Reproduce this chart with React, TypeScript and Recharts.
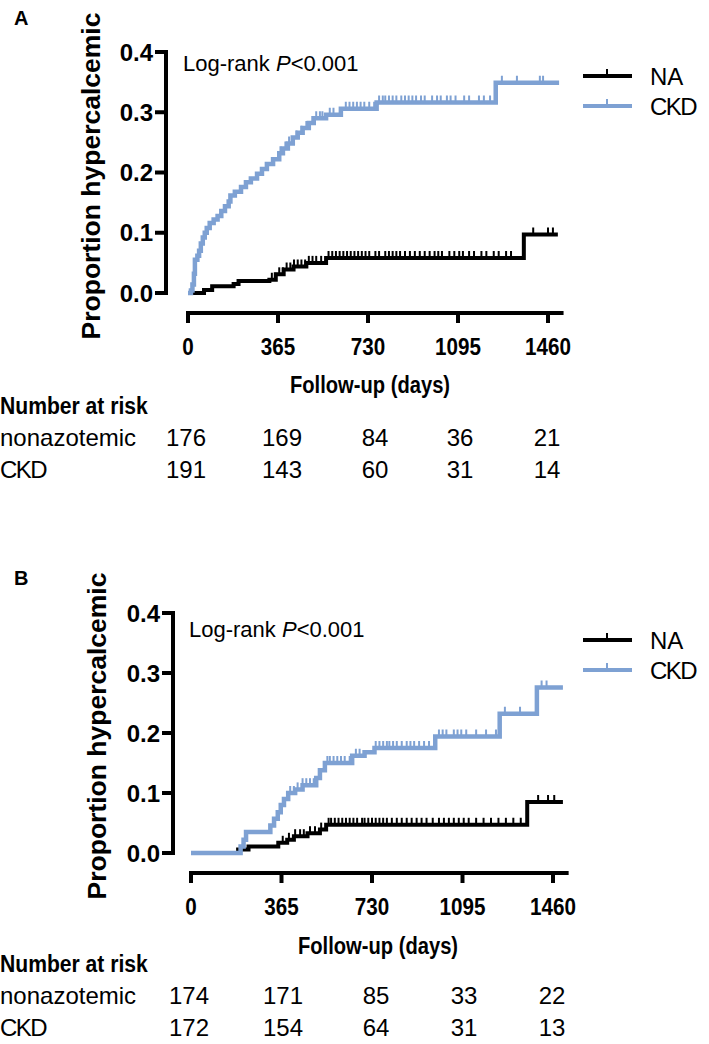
import React from 'react';
import { ComposedChart, Line, Scatter, XAxis, YAxis, ReferenceLine, Customized } from 'recharts';

const xTicks = [0, 365, 730, 1095, 1460];
const yTicks = [0, 0.1, 0.2, 0.3, 0.4];
const seriesNames = ['NA', 'CKD'];
const riskRowNames = ['nonazotemic', 'CKD'];

// Panel A – step curves [day, proportion]
const naStepsA = [
  [0, 0], [65, 0.005], [98, 0.011], [185, 0.015], [205, 0.02], [330, 0.022], [356, 0.031],
  [388, 0.039], [428, 0.044], [480, 0.05], [560, 0.058], [1362, 0.097], [1500, 0.097],
];
const ckdStepsA = [
  [0, 0], [12, 0.004], [18, 0.014], [24, 0.032], [28, 0.055], [38, 0.062], [45, 0.07],
  [52, 0.082], [60, 0.092], [68, 0.1], [76, 0.108], [88, 0.116], [104, 0.122], [120, 0.128],
  [135, 0.136], [150, 0.144], [165, 0.152], [172, 0.162], [190, 0.168], [215, 0.176],
  [235, 0.184], [255, 0.19], [280, 0.198], [300, 0.206], [320, 0.214], [345, 0.222],
  [370, 0.232], [385, 0.24], [405, 0.248], [425, 0.258], [445, 0.266], [465, 0.274],
  [490, 0.282], [510, 0.29], [560, 0.296], [620, 0.306], [765, 0.316], [1248, 0.349], [1505, 0.349],
];
const naCensorA = [
  340, 355, 370, 385, 400, 415, 430, 445, 460, 475, 490, 505, 520, 540, 570, 585, 600, 615, 630,
  645, 660, 675, 690, 705, 720, 735, 760, 775, 800, 815, 830, 845, 860, 880, 900, 920, 940, 960,
  980, 1000, 1015, 1030, 1060, 1080, 1100, 1115, 1140, 1160, 1190, 1210, 1240, 1260, 1290, 1310,
  1400, 1460, 1480,
];
const ckdCensorA = [
  375, 395, 410, 440, 460, 480, 505, 520, 535, 545, 575, 590, 640, 655, 670, 685, 700, 715, 735,
  755, 775, 790, 800, 815, 830, 845, 865, 880, 895, 910, 925, 945, 960, 990, 1010, 1025, 1050,
  1065, 1085, 1120, 1140, 1180, 1200, 1225, 1273, 1334, 1427, 1440,
];
const riskNAA = [176, 169, 84, 36, 21];
const riskCKDA = [191, 143, 60, 31, 14];

// Panel B – step curves [day, proportion]
const naStepsB = [
  [0, 0], [190, 0.006], [232, 0.011], [352, 0.017], [388, 0.022], [415, 0.028], [470, 0.033],
  [520, 0.039], [545, 0.047], [1356, 0.085], [1500, 0.085],
];
const ckdStepsB = [
  [0, 0], [200, 0.011], [212, 0.022], [222, 0.035], [320, 0.046], [335, 0.057], [350, 0.068],
  [362, 0.08], [375, 0.09], [392, 0.1], [420, 0.106], [450, 0.113], [505, 0.125], [520, 0.138],
  [540, 0.15], [650, 0.162], [700, 0.168], [740, 0.175], [985, 0.194], [1245, 0.232],
  [1395, 0.276], [1500, 0.276],
];
const naCensorB = [
  370, 395, 420, 440, 455, 480, 500, 525, 555, 565, 580, 595, 610, 625, 640, 655, 670, 690, 700,
  715, 730, 745, 760, 775, 790, 810, 830, 850, 870, 890, 910, 930, 950, 975, 1000, 1020, 1040,
  1060, 1080, 1100, 1120, 1150, 1180, 1210, 1240, 1270, 1300, 1330, 1400, 1440, 1465,
];
const ckdCensorB = [
  400, 415, 430, 450, 465, 480, 495, 550, 560, 575, 590, 605, 620, 640, 665, 680, 745, 760, 775,
  790, 800, 815, 830, 850, 870, 885, 900, 920, 940, 960, 1000, 1015, 1030, 1060, 1075, 1090,
  1110, 1150, 1190, 1230, 1266, 1327, 1414, 1434,
];
const riskNAB = [174, 171, 85, 33, 22];
const riskCKDB = [172, 154, 64, 31, 13];

const BLACK = '#000000';
const BLUE = '#7ea1d3';
const FONT = "'Liberation Sans', Arial, sans-serif";
const NARROW = 0.84; // bold titles in the figure are condensed

const stepValueAt = (steps: number[][], day: number) => {
  let v = 0;
  for (const [d, p] of steps) {
    if (d <= day) v = p;
    else break;
  }
  return v;
};
const toPoints = (steps: number[][]) => steps.map(([day, p]) => ({ day, p }));
const toCensor = (steps: number[][], days: number[]) => days.map((day) => ({ day, p: stepValueAt(steps, day) }));

const censorShape = (color: string) => (props: any) => (
  <line x1={props.cx} x2={props.cx} y1={props.cy} y2={props.cy - 7} stroke={color} strokeWidth={2} />
);

const BoldText = ({ x, y, anchor = 'start', size = 24, sx = NARROW, children }: any) => (
  <g transform={`translate(${x},${y}) scale(${sx},1)`}>
    <text x={0} y={0} textAnchor={anchor} fontFamily={FONT} fontWeight={700} fontSize={size} fill="#000">
      {children}
    </text>
  </g>
);

const XTick = (props: any) => (
  <g transform={`translate(${props.x},${props.y}) scale(0.86,1)`}>
    <text x={0} y={0} dy="0.71em" textAnchor="middle" fontFamily={FONT} fontWeight={700} fontSize={24} fill="#000">
      {props.payload.value}
    </text>
  </g>
);

const YTick = (props: any) => (
  <g transform={`translate(${props.x},${props.y})`}>
    <text x={0} y={0} dy="0.355em" textAnchor="end" fontFamily={FONT} fontWeight={700} fontSize={24} fill="#000">
      {Number(props.payload.value).toFixed(1)}
    </text>
  </g>
);

const layoutA = {
  top: 0, height: 490, letter: 'A', letterY: 25,
  axisX: 166, x0: 188, x1460: 548, yTop: 52, yZero: 293, xAxisY: 313,
  yLabelX: 91, yLabelY: 176, logRankX: 183, logRankY: 71, legendY: 76,
  titleX: 370, titleY: 393, riskTitleY: 414, riskRowY: [446, 478],
  riskCols: [186, 282, 375, 460, 547],
};
const layoutB = {
  top: 560, height: 484, letter: 'B', letterY: 25,
  axisX: 173, x0: 191, x1460: 553, yTop: 53, yZero: 293, xAxisY: 313,
  yLabelX: 97, yLabelY: 176, logRankX: 189, logRankY: 77, legendY: 80,
  titleX: 378, titleY: 394, riskTitleY: 412, riskRowY: [444, 476],
  riskCols: [189, 283, 376, 464, 552],
};

function KMPanel({ lay, naSteps, ckdSteps, naCensor, ckdCensor, riskNA, riskCKD }: any) {
  const H = lay.height;
  const pxPerDay = (lay.x1460 - lay.x0) / 1460;
  const xMax = 1515;
  const xMin = -(lay.x0 - lay.axisX) / pxPerDay;
  const right = lay.x0 + xMax * pxPerDay;
  const pxPerUnit = (lay.yZero - lay.yTop) / 0.4;
  const yMin = -(lay.xAxisY - lay.yZero) / pxPerUnit;
  const colors = [BLACK, BLUE];
  const rows = [riskNA, riskCKD];

  const annotations = () => (
    <g>
      <text x={14} y={lay.letterY} fontFamily={FONT} fontWeight={700} fontSize={20} fill="#000">{lay.letter}</text>
      <g transform={`translate(${lay.yLabelX},${lay.yLabelY}) rotate(-90)`}>
        <text x={0} y={0} textAnchor="middle" dominantBaseline="central" fontFamily={FONT} fontWeight={700} fontSize={26.5} fill="#000">
          Proportion hypercalcemic
        </text>
      </g>
      <text x={lay.logRankX} y={lay.logRankY} fontFamily={FONT} fontSize={22} fill="#000">
        Log-rank <tspan fontStyle="italic">P</tspan>&lt;0.001
      </text>
      {seriesNames.map((name, i) => {
        const y = lay.legendY + i * 30;
        return (
          <g key={name}>
            <line x1={583} x2={632} y1={y} y2={y} stroke={colors[i]} strokeWidth={4} />
            <line x1={607} x2={607} y1={y} y2={y - 7} stroke={colors[i]} strokeWidth={2} />
            <text x={650} y={y + 9} fontFamily={FONT} fontSize={24} letterSpacing={name === 'CKD' ? -1.5 : 0} fill="#000">
              {name}
            </text>
          </g>
        );
      })}
      <BoldText x={lay.titleX} y={lay.titleY} anchor="middle">Follow-up (days)</BoldText>
      <BoldText x={0} y={lay.riskTitleY} sx={0.88}>Number at risk</BoldText>
      {riskRowNames.map((name, r) => (
        <g key={name}>
          <text x={0} y={lay.riskRowY[r]} fontFamily={FONT} fontSize={24} letterSpacing={name === 'CKD' ? -1.5 : 0} fill="#000">
            {name}
          </text>
          {rows[r].map((v: number, c: number) => (
            <text key={c} x={lay.riskCols[c]} y={lay.riskRowY[r]} textAnchor="middle" fontFamily={FONT} fontSize={24} fill="#000">
              {v}
            </text>
          ))}
        </g>
      ))}
    </g>
  );

  return (
    <div style={{ position: 'absolute', left: 0, top: lay.top, width: 709, height: H }}>
      <ComposedChart
        width={709}
        height={H}
        margin={{ top: lay.yTop, right: 709 - right, bottom: H - lay.xAxisY - 40, left: 0 }}
      >
        <XAxis
          type="number"
          dataKey="day"
          domain={[xMin, xMax]}
          allowDataOverflow
          ticks={xTicks}
          interval={0}
          axisLine={false}
          tickLine={{ stroke: BLACK, strokeWidth: 4 }}
          tickSize={10}
          tickMargin={15}
          height={40}
          tick={<XTick />}
        />
        <YAxis
          type="number"
          dataKey="p"
          domain={[yMin, 0.4]}
          allowDataOverflow
          ticks={yTicks}
          interval={0}
          width={lay.axisX}
          axisLine={false}
          tickLine={{ stroke: BLACK, strokeWidth: 4 }}
          tickSize={11}
          tickMargin={2}
          tick={<YTick />}
        />
        <ReferenceLine
          segment={[{ x: xMin, y: 0 }, { x: xMin, y: 0.4 }]}
          stroke={BLACK}
          strokeWidth={4}
          strokeLinecap="square"
          ifOverflow="visible"
        />
        <ReferenceLine
          segment={[{ x: 0, y: yMin }, { x: xMax, y: yMin }]}
          stroke={BLACK}
          strokeWidth={4}
          strokeLinecap="square"
          ifOverflow="visible"
        />
        <Line
          data={toPoints(naSteps)}
          dataKey="p"
          type="stepAfter"
          stroke={BLACK}
          strokeWidth={4}
          dot={false}
          isAnimationActive={false}
        />
        <Line
          data={toPoints(ckdSteps)}
          dataKey="p"
          type="stepAfter"
          stroke={BLUE}
          strokeWidth={4.5}
          dot={false}
          isAnimationActive={false}
        />
        <Scatter data={toCensor(naSteps, naCensor)} dataKey="p" shape={censorShape(BLACK)} isAnimationActive={false} />
        <Scatter data={toCensor(ckdSteps, ckdCensor)} dataKey="p" shape={censorShape(BLUE)} isAnimationActive={false} />
        <Customized component={annotations} />
      </ComposedChart>
    </div>
  );
}

export default function App() {
  return (
    <div style={{ position: 'absolute', left: 0, top: 0, width: 709, height: 1044, background: '#fff' }}>
      <KMPanel lay={layoutA} naSteps={naStepsA} ckdSteps={ckdStepsA} naCensor={naCensorA} ckdCensor={ckdCensorA} riskNA={riskNAA} riskCKD={riskCKDA} />
      <KMPanel lay={layoutB} naSteps={naStepsB} ckdSteps={ckdStepsB} naCensor={naCensorB} ckdCensor={ckdCensorB} riskNA={riskNAB} riskCKD={riskCKDB} />
    </div>
  );
}
